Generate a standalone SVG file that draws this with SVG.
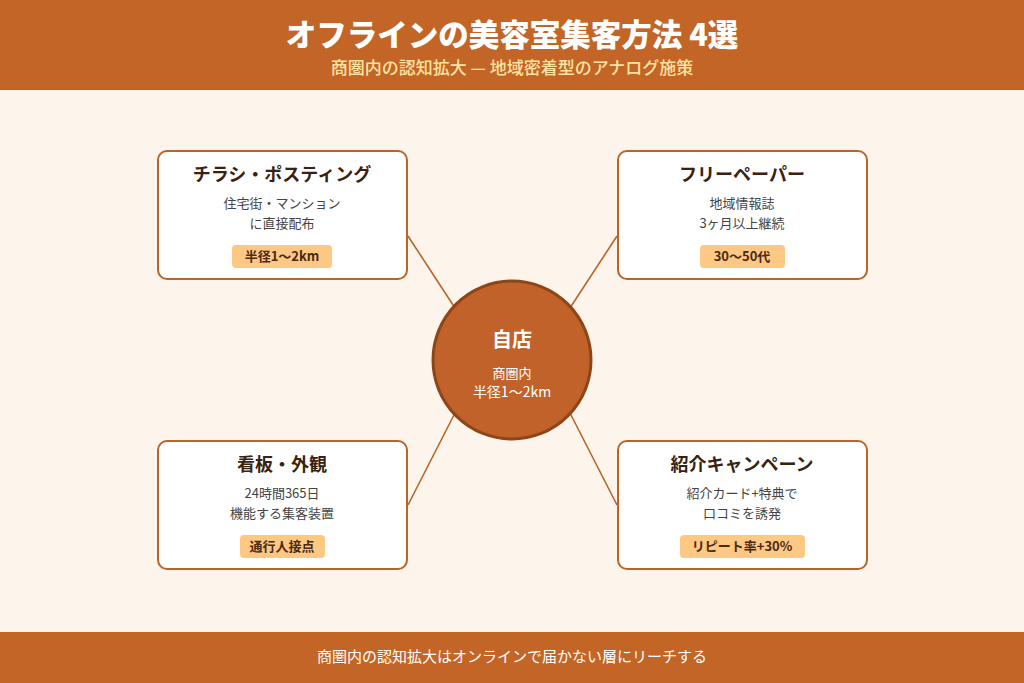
<svg xmlns="http://www.w3.org/2000/svg" width="1024" height="683" viewBox="0 0 1024 683">
<style>
text{font-family:"Noto Sans CJK JP","Noto Sans",sans-serif;text-anchor:middle}
.title{font-size:30.5px;font-weight:900;fill:#fff}
.sub{font-size:17px;font-weight:500;fill:#FFE3A3}
.box{fill:#fff;stroke:#B8642A;stroke-width:2}
.nt{font-size:18px;font-weight:700;fill:#3A2212}
.nb{font-size:13px;fill:#444}
.badge{fill:#FDC784}
.bt{font-size:13px;font-weight:700;fill:#4A2A14}
.conn{stroke:#B8642A;stroke-width:1.6;fill:none}
.ct{fill:#fff}
</style>
<rect width="1024" height="683" fill="#FDF5EC"/>
<rect width="1024" height="90" fill="#C26526"/>
<text class="title" x="512" y="46">オフラインの美容室集客方法 4選</text>
<text class="sub" x="512" y="74">商圏内の認知拡大 — 地域密着型のアナログ施策</text>
<g id="connectors">
<line class="conn" x1="408" y1="236" x2="455" y2="308"/>
<line class="conn" x1="617" y1="236" x2="570" y2="308"/>
<line class="conn" x1="408" y1="505" x2="455" y2="413"/>
<line class="conn" x1="617" y1="505" x2="570" y2="413"/>
</g>
<g id="center">
<circle cx="512" cy="360" r="79" fill="#C0622A" stroke="#8E4518" stroke-width="3"/>
<text class="ct" x="512" y="347" font-size="20" font-weight="700">自店</text>
<text class="ct" x="512" y="378" font-size="13">商圏内</text>
<text class="ct" x="512" y="397" font-size="14">半径1〜2km</text>
</g>
<g id="flyer">
<rect class="box" x="158" y="151" width="249" height="128" rx="9"/>
<text class="nt" x="282" y="181">チラシ・ポスティング</text>
<text class="nb" x="282" y="208">住宅街・マンション</text>
<text class="nb" x="282" y="228">に直接配布</text>
<rect class="badge" x="232" y="245" width="100" height="23" rx="4"/>
<text class="bt" x="282" y="261">半径1〜2km</text>
</g>
<g id="freepaper">
<rect class="box" x="618" y="151" width="249" height="128" rx="9"/>
<text class="nt" x="742" y="181">フリーペーパー</text>
<text class="nb" x="742" y="208">地域情報誌</text>
<text class="nb" x="742" y="228">3ヶ月以上継続</text>
<rect class="badge" x="700" y="245" width="85" height="23" rx="4"/>
<text class="bt" x="742" y="261">30〜50代</text>
</g>
<g id="signboard">
<rect class="box" x="158" y="441" width="249" height="128" rx="9"/>
<text class="nt" x="282" y="471">看板・外観</text>
<text class="nb" x="282" y="498">24時間365日</text>
<text class="nb" x="282" y="518">機能する集客装置</text>
<rect class="badge" x="240" y="535" width="85" height="23" rx="4"/>
<text class="bt" x="282" y="551">通行人接点</text>
</g>
<g id="referral">
<rect class="box" x="618" y="441" width="249" height="128" rx="9"/>
<text class="nt" x="742" y="471">紹介キャンペーン</text>
<text class="nb" x="742" y="498">紹介カード+特典で</text>
<text class="nb" x="742" y="518">口コミを誘発</text>
<rect class="badge" x="680" y="535" width="125" height="23" rx="4"/>
<text class="bt" x="742" y="551">リピート率+30%</text>
</g>
<rect y="632" width="1024" height="51" fill="#C26526"/>
<text x="512" y="662" font-size="15" fill="#fff">商圏内の認知拡大はオンラインで届かない層にリーチする</text>
</svg>
